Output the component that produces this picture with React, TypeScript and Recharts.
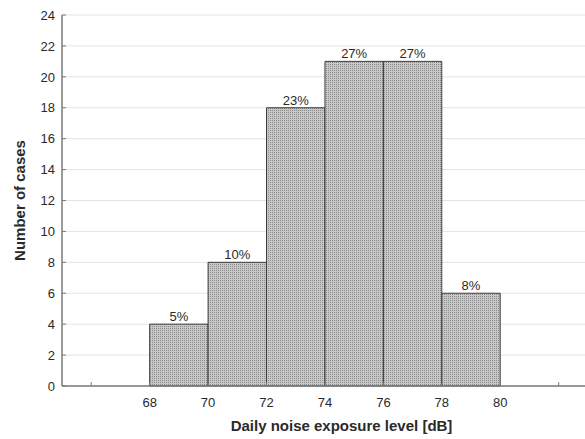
import React from "react";
import { ComposedChart, Bar, XAxis, YAxis, CartesianGrid, LabelList } from "recharts";

const binCenters = [69, 71, 73, 75, 77, 79];
const counts = [4, 8, 18, 21, 21, 6];
const percentLabels = ["5%", "10%", "23%", "27%", "27%", "8%"];
const xTicks = [66, 68, 70, 72, 74, 76, 78, 80, 82];
const xLabeledTicks = [68, 70, 72, 74, 76, 78, 80];
const yTicks = [0, 2, 4, 6, 8, 10, 12, 14, 16, 18, 20, 22, 24];

const data = binCenters.map((c, i) => ({ x: c, count: counts[i], pct: percentLabels[i] }));

const W = 585;
const H = 439;
const LEFT = 62;
const TOP = 15;
const XAXIS_H = 53;
const X_DOMAIN: [number, number] = [65, 82.9];
const BIN_WIDTH = 2;
const plotWidth = W - LEFT;
const barSize = (plotWidth / (X_DOMAIN[1] - X_DOMAIN[0])) * BIN_WIDTH * 0.999;

const AXIS_COLOR = "#7a7a7a";
const TEXT_COLOR = "#2a2a2a";
const FONT = "'Liberation Sans', Arial, sans-serif";

const LeftTick = (props: any) => {
  const { x, y, payload } = props;
  return (
    <g>
      <line x1={x} x2={x + 4} y1={y} y2={y} stroke={AXIS_COLOR} strokeWidth={1} />
      <text x={x - 7} y={y} dy="0.36em" textAnchor="end" fontSize={13} fill={TEXT_COLOR} fontFamily={FONT}>
        {payload.value}
      </text>
    </g>
  );
};

const RightTick = (props: any) => {
  const { x, y } = props;
  return <line x1={x - 4} x2={x} y1={y} y2={y} stroke={AXIS_COLOR} strokeWidth={1} />;
};

const BottomTick = (props: any) => {
  const { x, y, payload } = props;
  const show = xLabeledTicks.includes(payload.value);
  return (
    <g>
      <line x1={x} x2={x} y1={y - 4} y2={y} stroke={AXIS_COLOR} strokeWidth={1} />
      {show && (
        <text x={x} y={y + 21} textAnchor="middle" fontSize={13} fill={TEXT_COLOR} fontFamily={FONT}>
          {payload.value}
        </text>
      )}
    </g>
  );
};

const TopTick = (props: any) => {
  const { x, y } = props;
  return <line x1={x} x2={x} y1={y} y2={y + 4} stroke={AXIS_COLOR} strokeWidth={1} />;
};

export default function App() {
  return (
    <div style={{ position: "absolute", left: 0, top: 0, width: W, height: H, background: "#fff" }}>
      <svg width={0} height={0} style={{ position: "absolute" }}>
        <defs>
          <pattern id="dotfill" width={2} height={2} patternUnits="userSpaceOnUse">
            <rect x={0} y={0} width={2} height={2} fill="#c8c8c8" />
            <rect x={0} y={0} width={1} height={1} fill="#8c8c8c" />
          </pattern>
        </defs>
      </svg>
      <ComposedChart
        width={W}
        height={H}
        data={data}
        margin={{ top: TOP, right: 0, bottom: 0, left: 0 }}
        barCategoryGap={0}
        barGap={0}
        style={{ fontFamily: FONT }}
      >
        <CartesianGrid horizontal vertical={false} stroke="#e4e4e4" yAxisId="left" />
        <XAxis
          dataKey="x"
          type="number"
          domain={X_DOMAIN}
          ticks={xTicks}
          allowDataOverflow
          height={XAXIS_H}
          tickSize={0}
          tickMargin={0}
          tick={<BottomTick />}
          axisLine={{ stroke: AXIS_COLOR, strokeWidth: 1.5 }}
          tickLine={false}
          interval={0}
          label={{
            content: (p: any) => {
              const vb = p.viewBox;
              return (
                <text
                  x={vb.x + vb.width / 2 + 18}
                  y={vb.y + vb.height - 8}
                  textAnchor="middle"
                  fontSize={15}
                  fontWeight="bold"
                  fill={TEXT_COLOR}
                  fontFamily={FONT}
                >
                  Daily noise exposure level [dB]
                </text>
              );
            },
          }}
        />
        <XAxis
          xAxisId="top"
          orientation="top"
          type="number"
          domain={X_DOMAIN}
          ticks={xTicks}
          allowDataOverflow
          height={0}
          tickSize={0}
          tickMargin={0}
          tick={<TopTick />}
          tickLine={false}
          interval={0}
          axisLine={{ stroke: AXIS_COLOR, strokeWidth: 1.5 }}
        />
        <YAxis
          yAxisId="left"
          type="number"
          domain={[0, 24]}
          ticks={yTicks}
          width={LEFT}
          tickSize={0}
          tickMargin={0}
          tick={<LeftTick />}
          tickLine={false}
          interval={0}
          axisLine={{ stroke: AXIS_COLOR, strokeWidth: 1.5 }}
          label={{
            content: (p: any) => {
              const vb = p.viewBox;
              const cx = 20;
              const cy = vb.y + vb.height / 2;
              return (
                <text
                  x={cx}
                  y={cy}
                  transform={`rotate(-90 ${cx} ${cy})`}
                  textAnchor="middle"
                  dy="0.36em"
                  fontSize={15}
                  fontWeight="bold"
                  fill={TEXT_COLOR}
                  fontFamily={FONT}
                >
                  Number of cases
                </text>
              );
            },
          }}
        />
        <YAxis
          yAxisId="right"
          orientation="right"
          type="number"
          domain={[0, 24]}
          ticks={yTicks}
          width={0}
          tickSize={0}
          tickMargin={0}
          tick={<RightTick />}
          tickLine={false}
          interval={0}
          axisLine={false}
        />
        <Bar
          yAxisId="left"
          dataKey="count"
          barSize={barSize}
          fill="url(#dotfill)"
          stroke="#3c3c3c"
          strokeWidth={1}
          isAnimationActive={false}
        >
          <LabelList dataKey="pct" position="top" offset={3} fontSize={13} fill={TEXT_COLOR} fontFamily={FONT} />
        </Bar>
      </ComposedChart>
    </div>
  );
}
